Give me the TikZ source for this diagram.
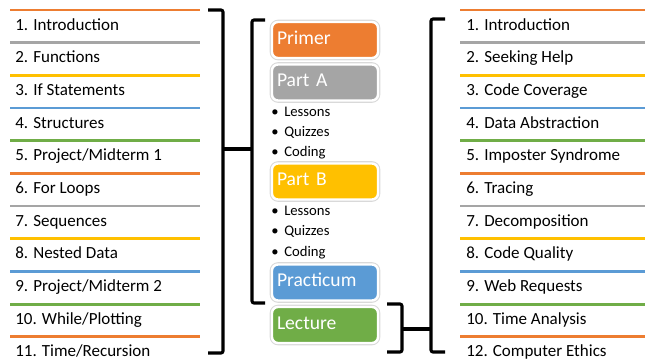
\documentclass[tikz,border=0pt]{standalone}
\usepackage{fontspec}
\setmainfont{Carlito}
\definecolor{corange}{HTML}{ED7D31}
\definecolor{cgray}{HTML}{A5A5A5}
\definecolor{cyellow}{HTML}{FFC000}
\definecolor{cblue}{HTML}{5B9BD5}
\definecolor{cgreen}{HTML}{70AD47}
\begin{document}
\begin{tikzpicture}[x=0.75pt,y=-0.75pt,
  sepline/.style={line width=2.2pt},
  item/.style={anchor=base west, inner sep=0pt, font=\fontsize{12.75}{14}\selectfont},
  brk/.style={line width=2.3pt, rounded corners=1.5pt},
  box/.style={rounded corners=4.5pt, minimum width=79.5pt, minimum height=27pt,
    text width=72pt, align=left, inner xsep=3.75pt, text=white,
    text height=0.65em, text depth=0pt,
    font=\fontsize{14.7}{16}\selectfont,
    preaction={draw=gray!30, line width=3.4pt}, draw=white, line width=1.8pt},
  bul/.style={anchor=base, inner sep=0pt, font=\fontsize{11}{13}\selectfont},
  bultxt/.style={anchor=base west, inner sep=0pt, font=\fontsize{11}{13}\selectfont}]
\useasboundingbox (0,0) rectangle (646,362);
% separator lines
\foreach \i/\c in {0/corange,1/cgray,2/cyellow,3/cblue,4/cgreen,5/corange,6/cgray,7/cyellow,8/cblue,9/cgreen,10/corange}{
  \draw[sepline,\c] (10,{10+32.67*\i}) -- (200,{10+32.67*\i});
  \draw[sepline,\c] (460,{10+32.67*\i}) -- (645,{10+32.67*\i});
}
% left list
\foreach \i/\t in {0/{1. Introduction},1/{2. Functions},2/{3. If Statements},3/{4. Structures},4/{5. Project/Midterm 1},5/{6. For Loops},6/{7. Sequences},7/{8. Nested Data},8/{9. Project/Midterm 2},9/{10. While/Plotting},10/{11. Time/Recursion}}{
  \node[item] (L\i) at (15,{10+32.67*\i+20}) {\t};
}
% right list
\foreach \i/\t in {0/{1. Introduction},1/{2. Seeking Help},2/{3. Code Coverage},3/{4. Data Abstraction},4/{5. Imposter Syndrome},5/{6. Tracing},6/{7. Decomposition},7/{8. Code Quality},8/{9. Web Requests},9/{10. Time Analysis},10/{12. Computer Ethics}}{
  \node[item] (R\i) at (466,{10+32.67*\i+20}) {\t};
}
% boxes
\node[box, fill=corange] (primer) at (325,40) {Primer};
\node[box, fill=cgray] (parta) at (325,82.5) {Part A};
\node[box, fill=cyellow] (partb) at (325,181.5) {Part B};
\node[box, fill=cblue] (practicum) at (325,282.5) {Practicum};
\node[box, fill=cgreen] (lecture) at (325,325) {Lecture};
% bullets
\foreach \y/\t/\n in {116/Lessons/a1,136.3/Quizzes/a2,156.5/Coding/a3,215.5/Lessons/b1,235.7/Quizzes/b2,256/Coding/b3}{
  \node[bul] (dot\n) at (275,\y) {•};
  \node[bultxt] (txt\n) at (284,\y) {\t};
}
% brackets
\coordinate (lbTip) at (223,149);
\coordinate (mbTip) at (252,149);
\coordinate (lcTip) at (402,329);
\coordinate (rbTip) at (431,329);
\draw[brk] (208,10) -- (223,10) -- (223,353) -- (208,353);
\draw[brk] (265,20) -- (252,20) -- (252,303) -- (265,303);
\draw[brk] (lbTip) -- (mbTip);
\draw[brk] (387,304) -- (402,304) -- (402,352) -- (387,352);
\draw[brk] (445,19) -- (431,19) -- (431,352) -- (445,352);
\draw[brk] (lcTip) -- (rbTip);
\end{tikzpicture}
\end{document}
